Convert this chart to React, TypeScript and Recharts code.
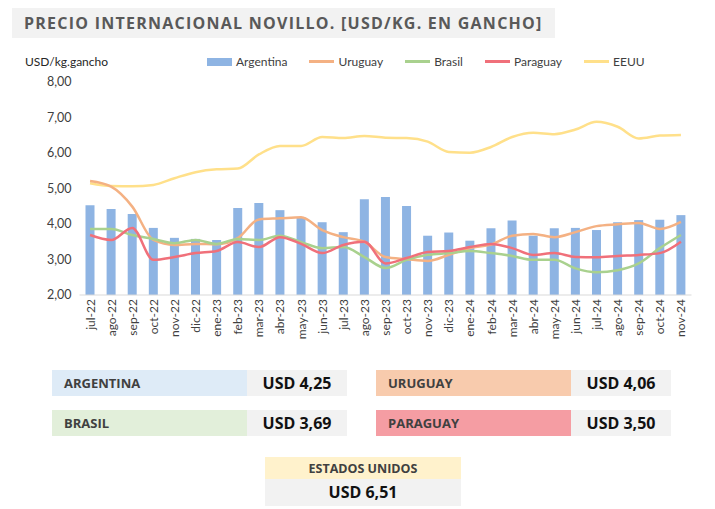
import {
  ComposedChart,
  Bar,
  Line,
  XAxis,
  YAxis,
} from "recharts";

const months = [
  "jul-22", "ago-22", "sep-22", "oct-22", "nov-22", "dic-22", "ene-23", "feb-23",
  "mar-23", "abr-23", "may-23", "jun-23", "jul-23", "ago-23", "sep-23", "oct-23",
  "nov-23", "dic-23", "ene-24", "feb-24", "mar-24", "abr-24", "may-24", "jun-24",
  "jul-24", "ago-24", "sep-24", "oct-24", "nov-24",
];

const argentina = [
  4.53, 4.42, 4.28, 3.89, 3.61, 3.58, 3.55, 4.45, 4.59, 4.39, 4.19, 4.05, 3.77, 4.7,
  4.76, 4.51, 3.67, 3.76, 3.53, 3.88, 4.1, 3.67, 3.88, 3.89, 3.83, 4.05, 4.11, 4.12, 4.25,
];
const uruguay = [
  5.21, 5.05, 4.49, 3.55, 3.41, 3.44, 3.43, 3.6, 4.13, 4.16, 4.19, 3.83, 3.63, 3.5,
  3.07, 3.01, 2.96, 3.13, 3.32, 3.42, 3.67, 3.72, 3.63, 3.77, 3.94, 3.99, 4.03, 3.86, 4.06,
];
const brasil = [
  3.86, 3.86, 3.69, 3.58, 3.46, 3.55, 3.44, 3.58, 3.55, 3.67, 3.49, 3.32, 3.35, 3.07,
  2.76, 2.99, 3.13, 3.18, 3.24, 3.18, 3.1, 2.99, 2.99, 2.75, 2.64, 2.7, 2.89, 3.32, 3.69,
];
const paraguay = [
  3.69, 3.55, 3.89, 2.99, 3.07, 3.18, 3.24, 3.49, 3.35, 3.63, 3.44, 3.18, 3.41, 3.5,
  2.89, 3.04, 3.21, 3.24, 3.35, 3.44, 3.32, 3.13, 3.18, 3.07, 3.06, 3.1, 3.13, 3.18, 3.5,
];
const eeuu = [
  5.15, 5.07, 5.06, 5.1, 5.29, 5.46, 5.54, 5.56, 5.96, 6.2, 6.2, 6.45, 6.42, 6.48,
  6.43, 6.42, 6.32, 6.03, 6.01, 6.17, 6.45, 6.57, 6.53, 6.66, 6.88, 6.74, 6.41, 6.49, 6.51,
];

const yTicks = [2, 3, 4, 5, 6, 7, 8];

const colors = {
  argentina: "#8EB4E3",
  uruguay: "#F4B183",
  brasil: "#A9D18E",
  paraguay: "#F0707A",
  eeuu: "#FFE08A",
};

const data = months.map((m, i) => ({
  month: m,
  Argentina: argentina[i],
  Uruguay: uruguay[i],
  Brasil: brasil[i],
  Paraguay: paraguay[i],
  EEUU: eeuu[i],
}));

const legendItems = [
  { name: "Argentina", color: colors.argentina, bar: true },
  { name: "Uruguay", color: colors.uruguay },
  { name: "Brasil", color: colors.brasil },
  { name: "Paraguay", color: colors.paraguay },
  { name: "EEUU", color: colors.eeuu },
];

const fmt = (v: number) => v.toFixed(2).replace(".", ",");

function ChartLegend() {
  return (
    <div
      style={{
        position: "absolute",
        left: 207,
        top: 54,
        display: "flex",
        gap: 22,
        fontFamily: "Lato",
        fontSize: 12,
        color: "#404040",
      }}
    >
      {legendItems.map((it) => (
        <div key={it.name} style={{ display: "flex", alignItems: "center", gap: 4 }}>
          <span
            style={{
              display: "inline-block",
              width: 25,
              height: it.bar ? 8 : 2.5,
              background: it.color,
            }}
          />
          {it.name}
        </div>
      ))}
    </div>
  );
}

const boxes = [
  { label: "ARGENTINA", value: argentina[argentina.length - 1], bg: "#DEEBF7", x: 52, y: 370 },
  { label: "URUGUAY", value: uruguay[uruguay.length - 1], bg: "#F8CBAD", x: 376, y: 370 },
  { label: "BRASIL", value: brasil[brasil.length - 1], bg: "#E2EFDA", x: 52, y: 410 },
  { label: "PARAGUAY", value: paraguay[paraguay.length - 1], bg: "#F59DA3", x: 376, y: 410 },
];

export default function App() {
  return (
    <div
      style={{
        position: "absolute",
        left: 0,
        top: 0,
        width: 715,
        height: 509,
        background: "#fff",
        fontFamily: "'Open Sans'",
      }}
    >
      <div
        style={{
          position: "absolute",
          left: 12,
          top: 8,
          width: 543,
          height: 30,
          background: "#F2F2F2",
          color: "#595959",
          fontWeight: 700,
          fontSize: 16,
          letterSpacing: 1.25,
          lineHeight: "30px",
          paddingLeft: 12,
          boxSizing: "border-box",
          whiteSpace: "nowrap",
        }}
      >
        PRECIO INTERNACIONAL NOVILLO. [USD/KG. EN GANCHO]
      </div>
      <div
        style={{
          position: "absolute",
          left: 25,
          top: 54,
          fontFamily: "Lato",
          fontSize: 12,
          color: "#262626",
        }}
      >
        USD/kg.gancho
      </div>
      <div style={{ position: "absolute", left: 0, top: 0 }}>
        <ComposedChart
          width={715}
          height={360}
          data={data}
          margin={{ top: 82, right: 23.5, bottom: 0, left: 19.5 }}
          barCategoryGap={0}
        >
          <XAxis
            dataKey="month"
            interval={0}
            height={65}
            axisLine={{ stroke: "#D9D9D9" }}
            tickLine={false}
            angle={-90}
            textAnchor="end"
            dy={-4}
            dx={-4}
            tick={{ fontFamily: "Lato", fontSize: 12, fill: "#404040" }}
          />
          <YAxis
            domain={[2, 8]}
            ticks={yTicks}
            width={60}
            axisLine={false}
            tickLine={false}
            tickFormatter={fmt}
            tick={{ fontFamily: "Lato", fontSize: 12.5, fill: "#404040" }}
          />
          <Bar dataKey="Argentina" fill={colors.argentina} barSize={9} isAnimationActive={false} />
          <Line type="monotone" dataKey="EEUU" stroke={colors.eeuu} strokeWidth={2.5} dot={false} isAnimationActive={false} />
          <Line type="monotone" dataKey="Uruguay" stroke={colors.uruguay} strokeWidth={2.5} dot={false} isAnimationActive={false} />
          <Line type="monotone" dataKey="Brasil" stroke={colors.brasil} strokeWidth={2.5} dot={false} isAnimationActive={false} />
          <Line type="monotone" dataKey="Paraguay" stroke={colors.paraguay} strokeWidth={2.5} dot={false} isAnimationActive={false} />
        </ComposedChart>
      </div>
      <ChartLegend />
      {boxes.map((b) => (
        <div key={b.label} style={{ position: "absolute", left: b.x, top: b.y, display: "flex", height: 26 }}>
          <div
            style={{
              width: 195,
              background: b.bg,
              color: "#404040",
              fontWeight: 700,
              fontSize: 13,
              lineHeight: "26px",
              paddingLeft: 12,
              boxSizing: "border-box",
            }}
          >
            {b.label}
          </div>
          <div
            style={{
              width: 100,
              background: "#F2F2F2",
              color: "#111",
              fontWeight: 700,
              fontSize: 16,
              lineHeight: "26px",
              textAlign: "center",
            }}
          >
            USD {fmt(b.value)}
          </div>
        </div>
      ))}
      <div style={{ position: "absolute", left: 265, top: 457, width: 196 }}>
        <div
          style={{
            height: 22,
            background: "#FFF2CC",
            color: "#404040",
            fontWeight: 700,
            fontSize: 12.5,
            lineHeight: "24px",
            textAlign: "center",
          }}
        >
          ESTADOS UNIDOS
        </div>
        <div
          style={{
            height: 27,
            background: "#F2F2F2",
            color: "#111",
            fontWeight: 700,
            fontSize: 16,
            lineHeight: "27px",
            textAlign: "center",
          }}
        >
          USD {fmt(eeuu[eeuu.length - 1])}
        </div>
      </div>
    </div>
  );
}
